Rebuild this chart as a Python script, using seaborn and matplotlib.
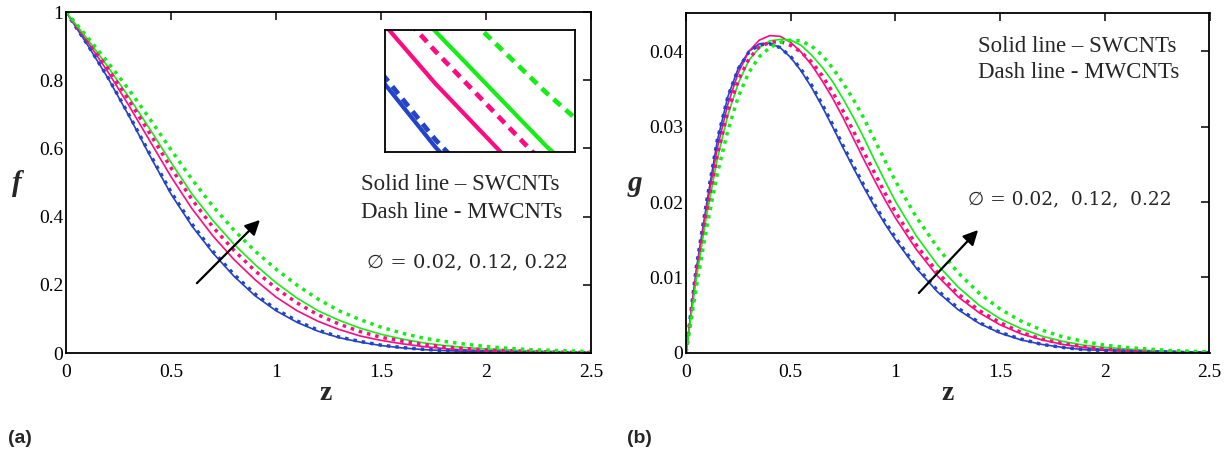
import numpy as np
import pandas as pd
import matplotlib
matplotlib.use("Agg")
import matplotlib.pyplot as plt
import seaborn as sns

# ---------------- data ----------------
phi_values = ["0.02", "0.12", "0.22"]
phi_colors = ["#2343c8", "#ff0a80", "#14ee14"]

# velocity f(z), sampled at z = 0, 0.1, ..., 2.5
z_f = np.round(np.arange(0, 2.51, 0.1), 2)
f_sw_002 = [1.000, 0.906, 0.806, 0.695, 0.578, 0.466, 0.372, 0.293, 0.225, 0.168, 0.124, 0.090, 0.064,
            0.045, 0.032, 0.022, 0.015, 0.010, 0.007, 0.005, 0.003, 0.002, 0.001, 0.001, 0.000, 0.000]
f_mw_002 = [1.000, 0.907, 0.808, 0.698, 0.583, 0.472, 0.378, 0.298, 0.230, 0.173, 0.128, 0.094, 0.067,
            0.047, 0.034, 0.023, 0.016, 0.011, 0.007, 0.005, 0.003, 0.002, 0.001, 0.001, 0.000, 0.000]
f_sw_012 = [1.000, 0.915, 0.824, 0.725, 0.621, 0.517, 0.423, 0.343, 0.274, 0.215, 0.164, 0.124, 0.093,
            0.069, 0.050, 0.037, 0.027, 0.019, 0.013, 0.009, 0.007, 0.005, 0.003, 0.002, 0.001, 0.001]
f_mw_012 = [1.000, 0.919, 0.834, 0.741, 0.643, 0.543, 0.450, 0.369, 0.301, 0.241, 0.190, 0.147, 0.112,
            0.085, 0.063, 0.046, 0.035, 0.025, 0.018, 0.013, 0.009, 0.007, 0.005, 0.003, 0.002, 0.001]
f_sw_022 = [1.000, 0.922, 0.839, 0.750, 0.656, 0.559, 0.466, 0.388, 0.319, 0.259, 0.206, 0.161, 0.124,
            0.096, 0.073, 0.055, 0.041, 0.030, 0.022, 0.016, 0.012, 0.009, 0.006, 0.005, 0.003, 0.002]
f_mw_022 = [1.000, 0.928, 0.852, 0.772, 0.686, 0.596, 0.509, 0.430, 0.360, 0.299, 0.246, 0.199, 0.158,
            0.124, 0.098, 0.076, 0.058, 0.044, 0.034, 0.026, 0.019, 0.014, 0.010, 0.008, 0.006, 0.004]

# velocity g(z), sampled every 0.05 up to z = 1 and every 0.1 after that
z_g = np.round(np.concatenate([np.arange(0, 1.001, 0.05), np.arange(1.1, 2.51, 0.1)]), 2)
g_sw_002 = [0, 0.0112, 0.0200, 0.0282, 0.0340, 0.0378, 0.0400, 0.0410, 0.0411, 0.0405, 0.0392, 0.0374,
            0.0352, 0.0327, 0.0300, 0.0272, 0.0245, 0.0219, 0.0194, 0.0171, 0.0150,
            0.0112, 0.0081, 0.0057, 0.0039, 0.0026, 0.0017, 0.0011, 0.0007, 0.0004, 0.0003, 0.0002,
            0.0001, 0.0001, 0.0000, 0.0000]
g_mw_002 = [0, 0.0115, 0.0203, 0.0283, 0.0340, 0.0377, 0.0399, 0.0409, 0.0410, 0.0405, 0.0393, 0.0376,
            0.0355, 0.0330, 0.0303, 0.0275, 0.0248, 0.0222, 0.0197, 0.0174, 0.0153,
            0.0114, 0.0083, 0.0059, 0.0040, 0.0027, 0.0018, 0.0011, 0.0007, 0.0004, 0.0003, 0.0002,
            0.0001, 0.0001, 0.0000, 0.0000]
g_sw_012 = [0, 0.0108, 0.0195, 0.0272, 0.0330, 0.0372, 0.0400, 0.0415, 0.0421, 0.0420, 0.0412, 0.0399,
            0.0382, 0.0361, 0.0338, 0.0312, 0.0284, 0.0256, 0.0229, 0.0203, 0.0179,
            0.0137, 0.0102, 0.0074, 0.0053, 0.0037, 0.0025, 0.0017, 0.0011, 0.0007, 0.0004, 0.0003,
            0.0002, 0.0001, 0.0001, 0.0000]
g_mw_012 = [0, 0.0104, 0.0188, 0.0263, 0.0320, 0.0362, 0.0390, 0.0406, 0.0412, 0.0413, 0.0408, 0.0399,
            0.0386, 0.0368, 0.0346, 0.0321, 0.0294, 0.0266, 0.0239, 0.0212, 0.0187,
            0.0143, 0.0107, 0.0078, 0.0056, 0.0040, 0.0027, 0.0018, 0.0012, 0.0008, 0.0005, 0.0003,
            0.0002, 0.0001, 0.0001, 0.0000]
g_sw_022 = [0, 0.0100, 0.0185, 0.0258, 0.0316, 0.0358, 0.0388, 0.0405, 0.0414, 0.0416, 0.0415, 0.0408,
            0.0395, 0.0379, 0.0360, 0.0337, 0.0312, 0.0285, 0.0256, 0.0228, 0.0201,
            0.0155, 0.0117, 0.0087, 0.0063, 0.0045, 0.0032, 0.0022, 0.0015, 0.0010, 0.0007, 0.0005,
            0.0003, 0.0002, 0.0001, 0.0001]
g_mw_022 = [0, 0.0088, 0.0168, 0.0238, 0.0295, 0.0340, 0.0372, 0.0393, 0.0405, 0.0412, 0.0415, 0.0414,
            0.0407, 0.0395, 0.0378, 0.0358, 0.0336, 0.0311, 0.0283, 0.0255, 0.0228,
            0.0180, 0.0140, 0.0106, 0.0079, 0.0058, 0.0042, 0.0030, 0.0021, 0.0015, 0.0010, 0.0007,
            0.0005, 0.0003, 0.0002, 0.0001]

x_ticks = [0, 0.5, 1, 1.5, 2, 2.5]
x_ticklabels = ["0", "0.5", "1", "1.5", "2", "2.5"]
f_ticks = [0, 0.2, 0.4, 0.6, 0.8, 1.0]
f_ticklabels = ["0", "0.2", "0.4", "0.6", "0.8", "1"]
g_ticks = [0, 0.01, 0.02, 0.03, 0.04]
g_ticklabels = ["0", "0.01", "0.02", "0.03", "0.04"]

f_series = {"SW": [f_sw_002, f_sw_012, f_sw_022], "MW": [f_mw_002, f_mw_012, f_mw_022]}
g_series = {"SW": [g_sw_002, g_sw_012, g_sw_022], "MW": [g_mw_002, g_mw_012, g_mw_022]}

# ---------------- style ----------------
sns.set_theme(style="white")
plt.rcParams["font.family"] = ["Liberation Serif", "DejaVu Serif"]
plt.rcParams["axes.edgecolor"] = "black"

W, H = 1232, 461
fig = plt.figure(figsize=(W / 100, H / 100), dpi=100)


def box(x0, y0, x1, y1):
    return [x0 / W, 1 - y1 / H, (x1 - x0) / W, (y1 - y0) / H]


def fx(x):
    return x / W


def fy(y):
    return 1 - y / H


DOT = (0, (1.0, 1.45))
PHI_FONT = ["DejaVu Serif", "DejaVu Sans"]


def draw_curves(ax, z, series, solid_lw=1.2, dot_lw=2.5, dot_style=DOT):
    for kind in ["SW", "MW"]:
        for vals, col in zip(series[kind], phi_colors):
            df = pd.DataFrame({"z": z, "v": vals})
            if kind == "SW":
                sns.lineplot(data=df, x="z", y="v", ax=ax, color=col, lw=solid_lw,
                             errorbar=None, legend=False)
            else:
                sns.lineplot(data=df, x="z", y="v", ax=ax, color=col, lw=dot_lw,
                             linestyle=dot_style, errorbar=None, legend=False)


def style_axes(ax, yt, ytl, ylim):
    ax.set_xlim(0, 2.5)
    ax.set_ylim(*ylim)
    ax.set_xticks(x_ticks)
    ax.set_xticklabels(x_ticklabels)
    ax.set_yticks(yt)
    ax.set_yticklabels(ytl)
    ax.set_xlabel("")
    ax.set_ylabel("")
    ax.tick_params(axis="both", which="both", direction="in", length=6, width=1.1,
                   top=True, right=True, labelsize=14, colors="black")
    ax.tick_params(axis="x", pad=8)
    ax.tick_params(axis="y", pad=2)
    for sp in ax.spines.values():
        sp.set_visible(True)
        sp.set_color("black")
        sp.set_linewidth(1.3)


# ---------------- panel (a) ----------------
axA = fig.add_axes(box(66, 12, 591, 353))
draw_curves(axA, z_f, f_series)
style_axes(axA, f_ticks, f_ticklabels, (0, 1))
axA.annotate("", xy=(0.933, 0.396), xytext=(0.614, 0.199),
             arrowprops=dict(arrowstyle="-|>", color="black", lw=1.6, mutation_scale=22))

fig.text(fx(361), fy(185), "Solid line – SWCNTs", fontsize=16.5, va="center", ha="left")
fig.text(fx(361), fy(212), "Dash line - MWCNTs", fontsize=16.5, va="center", ha="left")
fig.text(fx(367), fy(262), "∅ = 0.02, 0.12, 0.22", fontsize=14, va="center", ha="left",
         family=PHI_FONT)

# magnified view of the curves
axIn = fig.add_axes(box(385, 30, 575, 152))
draw_curves(axIn, z_f, f_series, solid_lw=3.0, dot_lw=3.4, dot_style=(0, (2.0, 1.4)))
axIn.set_xlim(0.455, 0.625)
axIn.set_ylim(0.462, 0.56)
axIn.set_xticks([])
axIn.set_yticks([])
axIn.set_xlabel("")
axIn.set_ylabel("")
for sp in axIn.spines.values():
    sp.set_visible(True)
    sp.set_color("black")
    sp.set_linewidth(1.3)

fig.text(fx(17), fy(183), "f", fontsize=21, fontweight="bold", fontstyle="italic",
         ha="center", va="center")
fig.text(fx(326), fy(393), "z", fontsize=20, fontweight="bold", ha="center", va="center")
fig.text(fx(8), fy(438), "(a)", fontsize=14, fontweight="bold", ha="left", va="center",
         family="Liberation Sans")

# ---------------- panel (b) ----------------
axB = fig.add_axes(box(686, 13, 1209.5, 352.7))
draw_curves(axB, z_g, g_series)
style_axes(axB, g_ticks, g_ticklabels, (0, 0.0451))
axB.annotate("", xy=(1.404, 0.01656), xytext=(1.103, 0.00766),
             arrowprops=dict(arrowstyle="-|>", color="black", lw=1.6, mutation_scale=22))

fig.text(fx(978), fy(47), "Solid line – SWCNTs", fontsize=16.5, va="center", ha="left")
fig.text(fx(978), fy(73), "Dash line - MWCNTs", fontsize=16.5, va="center", ha="left")
fig.text(fx(968), fy(199), "∅ = 0.02,  0.12,  0.22", fontsize=13.4, va="center", ha="left",
         family=PHI_FONT)

fig.text(fx(635), fy(183), "g", fontsize=21, fontweight="bold", fontstyle="italic",
         ha="center", va="center")
fig.text(fx(948), fy(393), "z", fontsize=20, fontweight="bold", ha="center", va="center")
fig.text(fx(627), fy(438), "(b)", fontsize=14, fontweight="bold", ha="left", va="center",
         family="Liberation Sans")

fig.savefig("out.png", dpi=100)
